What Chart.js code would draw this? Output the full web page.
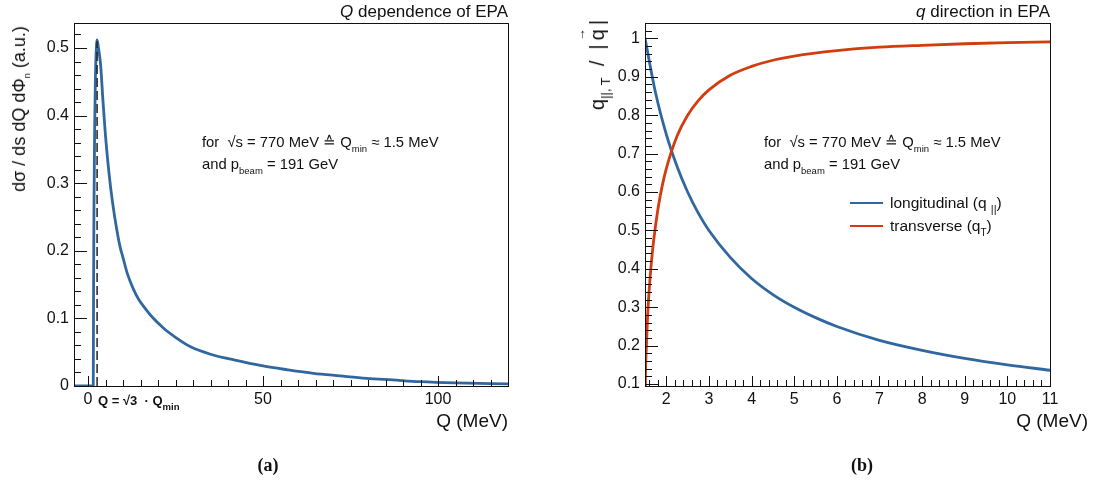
<!DOCTYPE html>
<html lang="en">
<head>
  <meta charset="UTF-8" />
  <title>EPA: Q dependence and q direction</title>
  <style>
    body {
      margin: 0;
      background: #fff;
      color: #111;
      font-family: "Liberation Sans", Arial, sans-serif;
    }
    #page { position: relative; width: 1101px; height: 484px; overflow: hidden; }
    canvas { position: absolute; top: 0; }
    .txt { position: absolute; white-space: nowrap; line-height: 1; }
    .txt sub { font-size: 9.5px; vertical-align: -5px; line-height: 0; }
    .rot { transform-origin: 0 0; transform: rotate(-90deg) translate(-100%, -50%); }
    .vec { position: relative; }
    .vec::after { content: "\2192"; position: absolute; left: -1px; top: -12px; font-size: 13px; font-weight: bold; }
    .cap {
      position: absolute;
      font-family: "Liberation Serif", serif;
      font-weight: bold;
      font-size: 18px;
      transform: translateX(-50%);
    }
    .key { position: absolute; width: 33px; height: 2px; }
  </style>
</head>
<body>
<div id="page">
  <canvas id="chartA" width="540" height="484" style="left:0"></canvas>
  <canvas id="chartB" width="561" height="484" style="left:540px"></canvas>

  <!-- panel (a) texts -->
  <div class="txt" style="right:593px; top:3px; font-size:17px"><i>Q</i> dependence of EPA</div>
  <div class="txt rot" style="left:19px; top:26px; font-size:18px">d&sigma; / ds dQ d&Phi;<sub>n</sub> (a.u.)</div>
  <div class="txt" style="left:202px; top:135px; font-size:14.8px">for &nbsp;&radic;s = 770 MeV &#8793; Q<sub>min</sub> &asymp; 1.5 MeV</div>
  <div class="txt" style="left:202px; top:157px; font-size:14.8px">and p<sub>beam</sub> = 191 GeV</div>
  <div class="txt" style="left:98px; top:394px; font-size:13px; font-weight:bold">Q = &radic;3 &nbsp;&middot; Q<sub>min</sub></div>
  <div class="txt" style="right:593px; top:411px; font-size:19px">Q (MeV)</div>
  <div class="cap" style="left:268px; top:455px">(a)</div>

  <!-- panel (b) texts -->
  <div class="txt" style="right:51px; top:3px; font-size:17px"><i>q</i> direction in EPA</div>
  <div class="txt rot" style="left:597px; top:20px; font-size:20px">q<sub style="font-size:13px; vertical-align:-6px">||, T</sub>&nbsp; / &nbsp;|&thinsp;<span class="vec">q</span>&thinsp;|</div>
  <div class="txt" style="left:764px; top:135px; font-size:14.8px">for &nbsp;&radic;s = 770 MeV &#8793; Q<sub>min</sub> &asymp; 1.5 MeV</div>
  <div class="txt" style="left:764px; top:157px; font-size:14.8px">and p<sub>beam</sub> = 191 GeV</div>
  <div class="key" style="left:850px; top:202px; background:#30679f"></div>
  <div class="txt" style="left:890px; top:195px; font-size:15.5px">longitudinal (q <sub style="font-size:11px">||</sub>)</div>
  <div class="key" style="left:850px; top:225px; background:#d23c0e"></div>
  <div class="txt" style="left:890px; top:218px; font-size:15.5px">transverse (q<sub style="font-size:10px">T</sub>)</div>
  <div class="txt" style="right:13px; top:411px; font-size:19px">Q (MeV)</div>
  <div class="cap" style="left:862px; top:455px">(b)</div>
</div>

<script src="https://cdn.jsdelivr.net/npm/chart.js"></script>
<script>
  // (a) d sigma vs Q
  const qA = [-4, 1.5, 1.6, 1.7, 1.9, 2.1, 2.3, 2.6, 3.0, 3.6, 4.3, 5.0, 6.0, 7.0, 8.4, 9.2, 10, 11.2, 13, 14.5, 16, 18,
              21.7, 25, 29.3, 35, 41.7, 50, 57, 64.4, 72, 79.6, 87, 94.9, 105, 120];
  const sigmaA = [0, 0, 0.15, 0.26, 0.38, 0.45, 0.49, 0.512, 0.50, 0.475, 0.42, 0.37, 0.315, 0.272, 0.226, 0.205, 0.19, 0.167, 0.143, 0.128, 0.117, 0.104,
                  0.085, 0.072, 0.058, 0.047, 0.0385, 0.0296, 0.024, 0.0188, 0.015, 0.0114, 0.009, 0.0064, 0.0045, 0.003];
  const peakQ = 2.6;
  const peakMark = [0, 0.51];
  const xTicksA = [0, 50, 100];
  const yTicksA = [0, 0.1, 0.2, 0.3, 0.4, 0.5];

  // (b) q direction fractions
  const qLong = [1.5, 1.75, 2, 2.25, 2.5, 2.75, 3, 3.5, 4, 4.5, 5, 5.5, 6, 7, 8, 9, 10, 11];
  const longFrac = [1.0, 0.857, 0.75, 0.667, 0.6, 0.545, 0.5, 0.43, 0.375, 0.333, 0.3, 0.273, 0.25, 0.214, 0.188, 0.167, 0.15, 0.136];
  const qTrans = [1.5, 1.51, 1.53, 1.56, 1.6, 1.65, 1.7, 1.8, 1.9, 2, 2.25, 2.5, 2.75, 3, 3.5, 4, 4.5, 5, 6, 7, 8, 9, 10, 11];
  const transFrac = [0, 0.115, 0.19, 0.275, 0.348, 0.417, 0.471, 0.553, 0.614, 0.661, 0.745, 0.8, 0.838, 0.866, 0.904, 0.927, 0.943, 0.954,
                     0.968, 0.977, 0.982, 0.986, 0.989, 0.991];
  const xTicksB = [2, 3, 4, 5, 6, 7, 8, 9, 10, 11];
  const yTicksB = [0.1, 0.2, 0.3, 0.4, 0.5, 0.6, 0.7, 0.8, 0.9, 1];
  const yLabelsB = ["0.1", "0.2", "0.3", "0.4", "0.5", "0.6", "0.7", "0.8", "0.9", "1"];

  const BLUE = "#30679f";
  const RED = "#d23c0e";

  Chart.defaults.font.family = '"Liberation Sans", Arial, sans-serif';
  Chart.defaults.font.size = 16;
  Chart.defaults.color = "#111";

  const pts = (xs, ys) => xs.map((x, i) => ({ x: x, y: ys[i] }));

  const minorList = (min, max, step) => {
    const out = [];
    for (let v = Math.ceil(min / step) * step; v <= max + 1e-9; v += step) out.push(v);
    return out;
  };

  // ROOT-like frame: ticks pointing inwards on left and bottom edges
  const rootFrame = {
    id: "rootFrame",
    afterDatasetsDraw(chart, args, o) {
      const { ctx, chartArea: a, scales: { x, y } } = chart;
      ctx.save();
      ctx.strokeStyle = "#111";
      ctx.lineWidth = 1;
      ctx.beginPath();
      const xs = (list, len) => list.forEach(v => {
        const p = Math.round(x.getPixelForValue(v)) + 0.5;
        ctx.moveTo(p, a.bottom);
        ctx.lineTo(p, a.bottom - len);
      });
      const ys = (list, len) => list.forEach(v => {
        const p = Math.round(y.getPixelForValue(v)) + 0.5;
        ctx.moveTo(a.left, p);
        ctx.lineTo(a.left + len, p);
      });
      xs(minorList(x.min, x.max, o.xMinor), 6);
      xs(o.xMajor, 10);
      ys(minorList(y.min, y.max, o.yMinor), 7);
      ys(o.yMajor, 13);
      ctx.stroke();
      ctx.strokeRect(Math.round(a.left) + 0.5, Math.round(a.top) + 0.5,
                     Math.round(a.right - a.left), Math.round(a.bottom - a.top));
      ctx.restore();
    }
  };

  const axis = (min, max, ticks, labels, pad, size, horizontal) => ({
    type: "linear",
    min: min,
    max: max,
    grid: { display: false, drawTicks: false },
    border: { display: false },
    afterBuildTicks: s => { s.ticks = ticks.map(v => ({ value: v })); },
    afterFit: s => { if (horizontal) s.height = size; else s.width = size; },
    ticks: {
      padding: pad,
      autoSkip: false,
      maxRotation: 0,
      callback: (v, i) => labels ? labels[i] : String(v)
    }
  });

  new Chart(document.getElementById("chartA"), {
    type: "line",
    data: {
      datasets: [
        {
          data: pts([peakQ, peakQ], peakMark),
          borderColor: "#222",
          borderWidth: 1.5,
          borderDash: [9, 4],
          pointRadius: 0
        },
        {
          data: pts(qA, sigmaA),
          borderColor: BLUE,
          borderWidth: 2.8,
          pointRadius: 0,
          cubicInterpolationMode: "monotone"
        }
      ]
    },
    options: {
      responsive: false,
      animation: false,
      layout: { padding: { top: 23, right: 32, left: 0, bottom: 0 } },
      plugins: {
        legend: { display: false },
        tooltip: { enabled: false },
        rootFrame: { xMajor: xTicksA, yMajor: yTicksA, xMinor: 5, yMinor: 0.02 }
      },
      scales: {
        x: axis(-4, 120, xTicksA, null, 4, 98, true),
        y: axis(0, 0.537, yTicksA, null, 5, 74, false)
      }
    },
    plugins: [rootFrame]
  });

  new Chart(document.getElementById("chartB"), {
    type: "line",
    data: {
      datasets: [
        {
          data: pts(qTrans, transFrac),
          borderColor: RED,
          borderWidth: 2.8,
          pointRadius: 0,
          cubicInterpolationMode: "monotone"
        },
        {
          data: pts(qLong, longFrac),
          borderColor: BLUE,
          borderWidth: 2.8,
          pointRadius: 0,
          cubicInterpolationMode: "monotone"
        }
      ]
    },
    options: {
      responsive: false,
      animation: false,
      layout: { padding: { top: 23, right: 51, left: 0, bottom: 0 } },
      plugins: {
        legend: { display: false },
        tooltip: { enabled: false },
        rootFrame: { xMajor: xTicksB, yMajor: yTicksB, xMinor: 0.2, yMinor: 0.02 }
      },
      scales: {
        x: axis(1.5, 11, xTicksB, null, 4, 98, true),
        y: axis(0.095, 1.04, yTicksB, yLabelsB, 5, 105, false)
      }
    },
    plugins: [rootFrame]
  });
</script>
</body>
</html>
